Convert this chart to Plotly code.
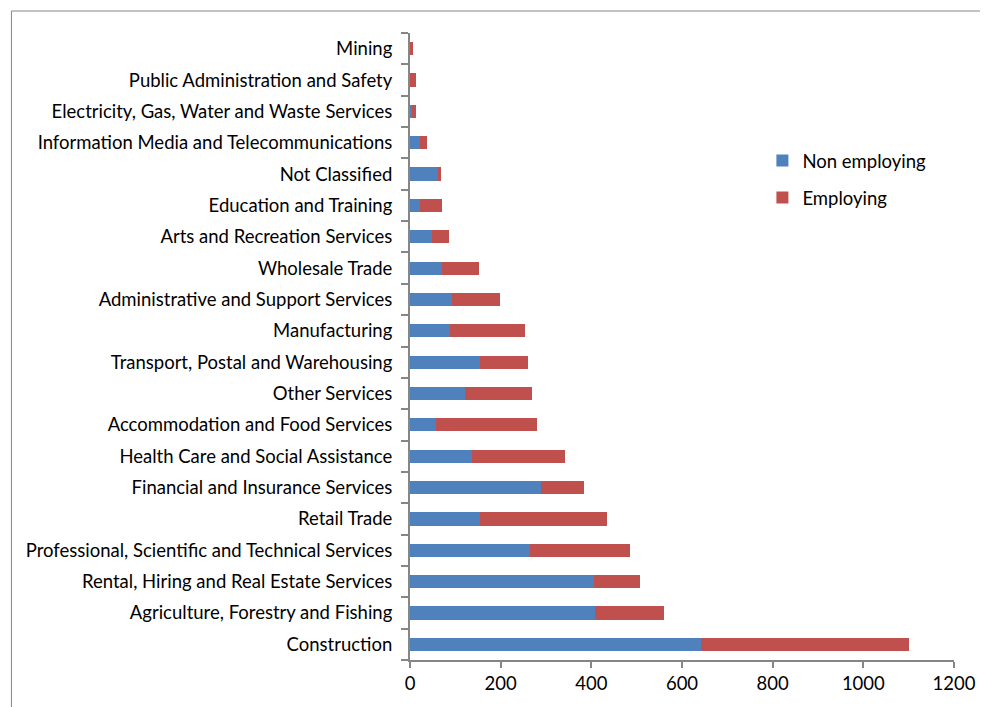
import plotly.graph_objects as go

# categories listed bottom-to-top
industries = [
    "Construction",
    "Agriculture, Forestry and Fishing",
    "Rental, Hiring and Real Estate Services",
    "Professional, Scientific and Technical Services",
    "Retail Trade",
    "Financial and Insurance Services",
    "Health Care and Social Assistance",
    "Accommodation and Food Services",
    "Other Services",
    "Transport, Postal and Warehousing",
    "Manufacturing",
    "Administrative and Support Services",
    "Wholesale Trade",
    "Arts and Recreation Services",
    "Education and Training",
    "Not Classified",
    "Information Media and Telecommunications",
    "Electricity, Gas, Water and Waste Services",
    "Public Administration and Safety",
    "Mining",
]
non_employing = [643, 409, 406, 265, 155, 290, 136, 58, 122, 154, 89, 92, 70, 49, 23, 61, 21, 4, 1, 1]
employing = [458, 151, 101, 220, 279, 94, 206, 222, 148, 107, 165, 107, 83, 38, 48, 8, 17, 10, 13, 5]

font_family = "Lato, 'Open Sans', sans-serif"
axis_grey = "#868686"

# plot area in figure pixels (page has an 8px body margin)
left, right, top, bottom = 402, 950, 25, 652
width, height = 980, 699
pw, ph = right - left, bottom - top

fig = go.Figure()
fig.add_trace(go.Bar(
    y=industries, x=non_employing, orientation="h", name="Non employing",
    marker=dict(color="#4F81BD", line=dict(width=0)), legendgroup="a",
))
fig.add_trace(go.Bar(
    y=industries, x=employing, orientation="h", name="Employing",
    marker=dict(color="#C0504D", line=dict(width=0)), legendgroup="b",
))

# chart border: only the top and left sides are inside the picture
bx, by = (0.5 - left) / pw, (bottom - 3) / ph
border = [
    dict(type="line", xref="paper", yref="paper", x0=bx, x1=2, y0=by, y1=by,
         line=dict(color=axis_grey, width=1), layer="below"),
    dict(type="line", xref="paper", yref="paper", x0=bx, x1=bx, y0=-1, y1=by,
         line=dict(color=axis_grey, width=1), layer="below"),
]

fig.update_layout(
    width=width,
    height=height,
    barmode="stack",
    bargap=0.58,
    plot_bgcolor="white",
    paper_bgcolor="white",
    font=dict(family=font_family, size=18.5, color="black"),
    margin=dict(l=left, r=width - right, t=top, b=height - bottom),
    legend=dict(
        x=(757 - left) / pw, y=(bottom - 134) / ph, xanchor="left", yanchor="top",
        traceorder="grouped", tracegroupgap=10,
        font=dict(size=18.5), bgcolor="rgba(0,0,0,0)",
    ),
    shapes=border,
)
fig.update_xaxes(
    range=[0, 1200], dtick=200, showgrid=False, zeroline=False,
    showline=True, linecolor=axis_grey, linewidth=2,
    ticks="outside", ticklen=6, tickcolor=axis_grey, tickwidth=2,
)
fig.update_yaxes(
    showgrid=False, zeroline=False, showline=True, linecolor=axis_grey, linewidth=2,
    ticks="outside", tickson="boundaries", ticklen=7, tickcolor=axis_grey, tickwidth=2,
    ticklabelstandoff=12,
)

fig.write_html("out.html")
